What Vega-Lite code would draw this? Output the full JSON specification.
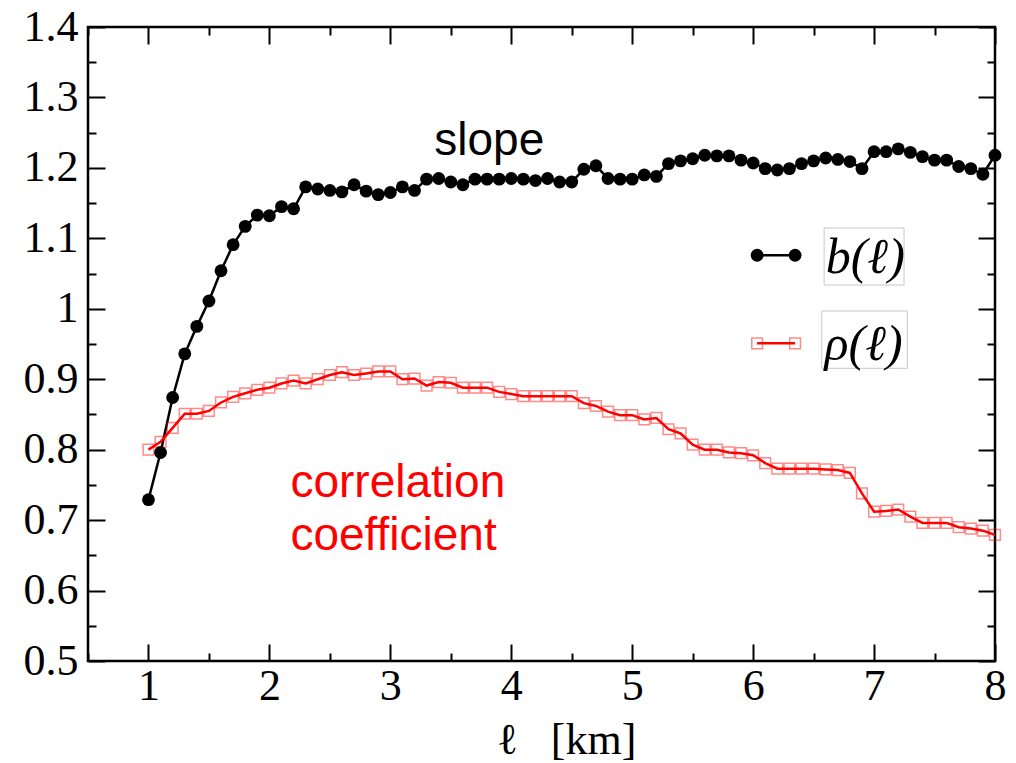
{
  "$schema": "https://vega.github.io/schema/vega-lite/v6.json",
  "width": 907,
  "height": 634,
  "autosize": {"type": "none"},
  "padding": {"left": 88, "top": 27, "right": 21, "bottom": 102},
  "background": "white",
  "config": {
    "view": {"stroke": "black", "strokeWidth": 2.5},
    "font": "Liberation Serif"
  },
  "datasets": {
    "main": [
      {"l": 1.0, "b": 0.729, "rho": 0.800},
      {"l": 1.1, "b": 0.796, "rho": 0.811},
      {"l": 1.2, "b": 0.874, "rho": 0.831},
      {"l": 1.3, "b": 0.936, "rho": 0.851},
      {"l": 1.4, "b": 0.975, "rho": 0.851},
      {"l": 1.5, "b": 1.011, "rho": 0.855},
      {"l": 1.6, "b": 1.054, "rho": 0.867},
      {"l": 1.7, "b": 1.091, "rho": 0.875},
      {"l": 1.8, "b": 1.117, "rho": 0.880},
      {"l": 1.9, "b": 1.133, "rho": 0.885},
      {"l": 2.0, "b": 1.132, "rho": 0.888},
      {"l": 2.1, "b": 1.145, "rho": 0.894},
      {"l": 2.2, "b": 1.142, "rho": 0.898},
      {"l": 2.3, "b": 1.173, "rho": 0.894},
      {"l": 2.4, "b": 1.170, "rho": 0.900},
      {"l": 2.5, "b": 1.168, "rho": 0.906},
      {"l": 2.6, "b": 1.166, "rho": 0.910},
      {"l": 2.7, "b": 1.176, "rho": 0.906},
      {"l": 2.8, "b": 1.167, "rho": 0.908},
      {"l": 2.9, "b": 1.162, "rho": 0.911},
      {"l": 3.0, "b": 1.165, "rho": 0.911},
      {"l": 3.1, "b": 1.173, "rho": 0.900},
      {"l": 3.2, "b": 1.168, "rho": 0.901},
      {"l": 3.3, "b": 1.184, "rho": 0.891},
      {"l": 3.4, "b": 1.185, "rho": 0.896},
      {"l": 3.5, "b": 1.180, "rho": 0.895},
      {"l": 3.6, "b": 1.176, "rho": 0.888},
      {"l": 3.7, "b": 1.184, "rho": 0.888},
      {"l": 3.8, "b": 1.184, "rho": 0.888},
      {"l": 3.9, "b": 1.184, "rho": 0.882},
      {"l": 4.0, "b": 1.185, "rho": 0.879},
      {"l": 4.1, "b": 1.184, "rho": 0.876},
      {"l": 4.2, "b": 1.182, "rho": 0.876},
      {"l": 4.3, "b": 1.185, "rho": 0.876},
      {"l": 4.4, "b": 1.180, "rho": 0.876},
      {"l": 4.5, "b": 1.180, "rho": 0.876},
      {"l": 4.6, "b": 1.198, "rho": 0.866},
      {"l": 4.7, "b": 1.203, "rho": 0.862},
      {"l": 4.8, "b": 1.185, "rho": 0.854},
      {"l": 4.9, "b": 1.184, "rho": 0.849},
      {"l": 5.0, "b": 1.184, "rho": 0.849},
      {"l": 5.1, "b": 1.190, "rho": 0.843},
      {"l": 5.2, "b": 1.188, "rho": 0.845},
      {"l": 5.3, "b": 1.206, "rho": 0.829},
      {"l": 5.4, "b": 1.210, "rho": 0.823},
      {"l": 5.5, "b": 1.213, "rho": 0.807},
      {"l": 5.6, "b": 1.218, "rho": 0.800},
      {"l": 5.7, "b": 1.217, "rho": 0.800},
      {"l": 5.8, "b": 1.217, "rho": 0.796},
      {"l": 5.9, "b": 1.211, "rho": 0.795},
      {"l": 6.0, "b": 1.207, "rho": 0.792},
      {"l": 6.1, "b": 1.199, "rho": 0.781},
      {"l": 6.2, "b": 1.197, "rho": 0.773},
      {"l": 6.3, "b": 1.199, "rho": 0.773},
      {"l": 6.4, "b": 1.206, "rho": 0.773},
      {"l": 6.5, "b": 1.210, "rho": 0.773},
      {"l": 6.6, "b": 1.214, "rho": 0.772},
      {"l": 6.7, "b": 1.212, "rho": 0.771},
      {"l": 6.8, "b": 1.209, "rho": 0.767},
      {"l": 6.9, "b": 1.199, "rho": 0.738},
      {"l": 7.0, "b": 1.223, "rho": 0.712},
      {"l": 7.1, "b": 1.223, "rho": 0.713},
      {"l": 7.2, "b": 1.227, "rho": 0.715},
      {"l": 7.3, "b": 1.222, "rho": 0.705},
      {"l": 7.4, "b": 1.216, "rho": 0.696},
      {"l": 7.5, "b": 1.211, "rho": 0.696},
      {"l": 7.6, "b": 1.211, "rho": 0.696},
      {"l": 7.7, "b": 1.202, "rho": 0.690},
      {"l": 7.8, "b": 1.199, "rho": 0.688},
      {"l": 7.9, "b": 1.191, "rho": 0.685},
      {"l": 8.0, "b": 1.218, "rho": 0.679}
    ],
    "legendB": [{"x": 6.033, "y": 1.076}, {"x": 6.347, "y": 1.076}],
    "legendR": [{"x": 6.033, "y": 0.951}, {"x": 6.347, "y": 0.951}],
    "legendText": [{"x": 6.600, "y": 1.072, "t": "b(ℓ)"}, {"x": 6.590, "y": 0.949, "t": "ρ(ℓ)"}],
    "legendBox": [
      {"x": 6.587, "x2": 7.248, "y": 1.1147, "y2": 1.0337},
      {"x": 6.568, "x2": 7.275, "y": 0.9968, "y2": 0.9155}
    ],
    "slope": [{"x": 3.818, "y": 1.218, "t": "slope"}],
    "corr": [{"x": 2.174, "y": 0.733, "t": "correlation"}, {"x": 2.174, "y": 0.658, "t": "coefficient"}]
  },
  "layer": [
    {
      "data": {"name": "main"},
      "mark": {"type": "line", "color": "black", "strokeWidth": 2.5},
      "encoding": {
        "x": {
          "field": "l", "type": "quantitative",
          "scale": {"domain": [0.5, 8], "nice": false, "zero": false},
          "axis": {
            "orient": "bottom",
            "values": [0.5, 1, 1.5, 2, 2.5, 3, 3.5, 4, 4.5, 5, 5.5, 6, 6.5, 7, 7.5, 8],
            "tickSize": {"condition": {"test": "datum.value % 1 === 0", "value": -17}, "value": -8},
            "tickWidth": 2, "tickColor": "black",
            "domain": false, "grid": false,
            "labelExpr": "datum.value % 1 === 0 ? format(datum.value, '~g') : ''",
            "labelFont": "Liberation Serif", "labelFontSize": 44, "labelColor": "black",
            "labelPadding": 20, "labelFlush": false, "labelOverlap": false,
            "title": "ℓ\u00a0\u00a0\u00a0[km]",
            "titleFont": "Liberation Serif", "titleFontSize": 44, "titleFontWeight": "normal",
            "titleColor": "black", "titleBaseline": "alphabetic", "titleX": 478, "titleY": 92
          }
        },
        "y": {
          "field": "b", "type": "quantitative",
          "scale": {"domain": [0.5, 1.4], "nice": false, "zero": false},
          "axis": {
            "orient": "left",
            "values": [0.5, 0.55, 0.6, 0.65, 0.7, 0.75, 0.8, 0.85, 0.9, 0.95, 1, 1.05, 1.1, 1.15, 1.2, 1.25, 1.3, 1.35, 1.4],
            "tickSize": {"condition": {"test": "abs(datum.value*10 - round(datum.value*10)) < 1e-6", "value": -17}, "value": -8},
            "tickWidth": 2, "tickColor": "black",
            "domain": false, "grid": false,
            "labelExpr": "abs(datum.value*10 - round(datum.value*10)) < 1e-6 ? format(datum.value, '~g') : ''",
            "labelFont": "Liberation Serif", "labelFontSize": 44, "labelColor": "black",
            "labelPadding": 27, "labelFlush": false, "labelOverlap": false,
            "title": null
          }
        }
      }
    },
    {
      "data": {"name": "main"},
      "mark": {"type": "line", "color": "#ff0000", "strokeWidth": 2.5},
      "encoding": {
        "x": {
          "field": "l", "type": "quantitative",
          "axis": {
            "orient": "top",
            "values": [0.5, 1, 1.5, 2, 2.5, 3, 3.5, 4, 4.5, 5, 5.5, 6, 6.5, 7, 7.5, 8],
            "tickSize": {"condition": {"test": "datum.value % 1 === 0", "value": -17}, "value": -8},
            "tickWidth": 2, "tickColor": "black",
            "domain": false, "grid": false, "labels": false, "title": null
          }
        },
        "y": {
          "field": "rho", "type": "quantitative",
          "axis": {
            "orient": "right",
            "values": [0.5, 0.55, 0.6, 0.65, 0.7, 0.75, 0.8, 0.85, 0.9, 0.95, 1, 1.05, 1.1, 1.15, 1.2, 1.25, 1.3, 1.35, 1.4],
            "tickSize": {"condition": {"test": "abs(datum.value*10 - round(datum.value*10)) < 1e-6", "value": -17}, "value": -8},
            "tickWidth": 2, "tickColor": "black",
            "domain": false, "grid": false, "labels": false, "title": null
          }
        }
      }
    },
    {
      "data": {"name": "main"},
      "mark": {"type": "point", "shape": "square", "filled": false, "stroke": "#ff0000", "strokeWidth": 1.5, "strokeOpacity": 0.65, "size": 115},
      "encoding": {
        "x": {"field": "l", "type": "quantitative", "axis": null},
        "y": {"field": "rho", "type": "quantitative", "axis": null}
      }
    },
    {
      "data": {"name": "main"},
      "mark": {"type": "circle", "color": "black", "opacity": 1, "size": 165},
      "encoding": {
        "x": {"field": "l", "type": "quantitative", "axis": null},
        "y": {"field": "b", "type": "quantitative", "axis": null}
      }
    },
    {
      "data": {"name": "legendBox"},
      "mark": {"type": "rect", "fill": null, "stroke": "#c8c8c8", "strokeWidth": 1},
      "encoding": {
        "x": {"field": "x", "type": "quantitative", "axis": null},
        "x2": {"field": "x2"},
        "y": {"field": "y", "type": "quantitative", "axis": null},
        "y2": {"field": "y2"}
      }
    },
    {
      "data": {"name": "legendB"},
      "mark": {"type": "line", "color": "black", "strokeWidth": 2.5},
      "encoding": {
        "x": {"field": "x", "type": "quantitative", "axis": null},
        "y": {"field": "y", "type": "quantitative", "axis": null}
      }
    },
    {
      "data": {"name": "legendB"},
      "mark": {"type": "circle", "color": "black", "opacity": 1, "size": 165},
      "encoding": {
        "x": {"field": "x", "type": "quantitative", "axis": null},
        "y": {"field": "y", "type": "quantitative", "axis": null}
      }
    },
    {
      "data": {"name": "legendR"},
      "mark": {"type": "line", "color": "#ff0000", "strokeWidth": 2.5},
      "encoding": {
        "x": {"field": "x", "type": "quantitative", "axis": null},
        "y": {"field": "y", "type": "quantitative", "axis": null}
      }
    },
    {
      "data": {"name": "legendR"},
      "mark": {"type": "point", "shape": "square", "filled": false, "stroke": "#ff0000", "strokeWidth": 1.5, "strokeOpacity": 0.65, "size": 115},
      "encoding": {
        "x": {"field": "x", "type": "quantitative", "axis": null},
        "y": {"field": "y", "type": "quantitative", "axis": null}
      }
    },
    {
      "data": {"name": "legendText"},
      "mark": {"type": "text", "font": "Liberation Serif", "fontStyle": "italic", "fontSize": 50, "color": "black", "align": "left", "baseline": "middle"},
      "encoding": {
        "x": {"field": "x", "type": "quantitative", "axis": null},
        "y": {"field": "y", "type": "quantitative", "axis": null},
        "text": {"field": "t"}
      }
    },
    {
      "data": {"name": "slope"},
      "mark": {"type": "text", "font": "Liberation Sans", "fontSize": 46, "color": "black", "align": "center", "baseline": "alphabetic"},
      "encoding": {
        "x": {"field": "x", "type": "quantitative", "axis": null},
        "y": {"field": "y", "type": "quantitative", "axis": null},
        "text": {"field": "t"}
      }
    },
    {
      "data": {"name": "corr"},
      "mark": {"type": "text", "font": "Liberation Sans", "fontSize": 46, "color": "#ff0000", "align": "left", "baseline": "alphabetic"},
      "encoding": {
        "x": {"field": "x", "type": "quantitative", "axis": null},
        "y": {"field": "y", "type": "quantitative", "axis": null},
        "text": {"field": "t"}
      }
    }
  ],
  "resolve": {"axis": {"x": "independent", "y": "independent"}}
}
